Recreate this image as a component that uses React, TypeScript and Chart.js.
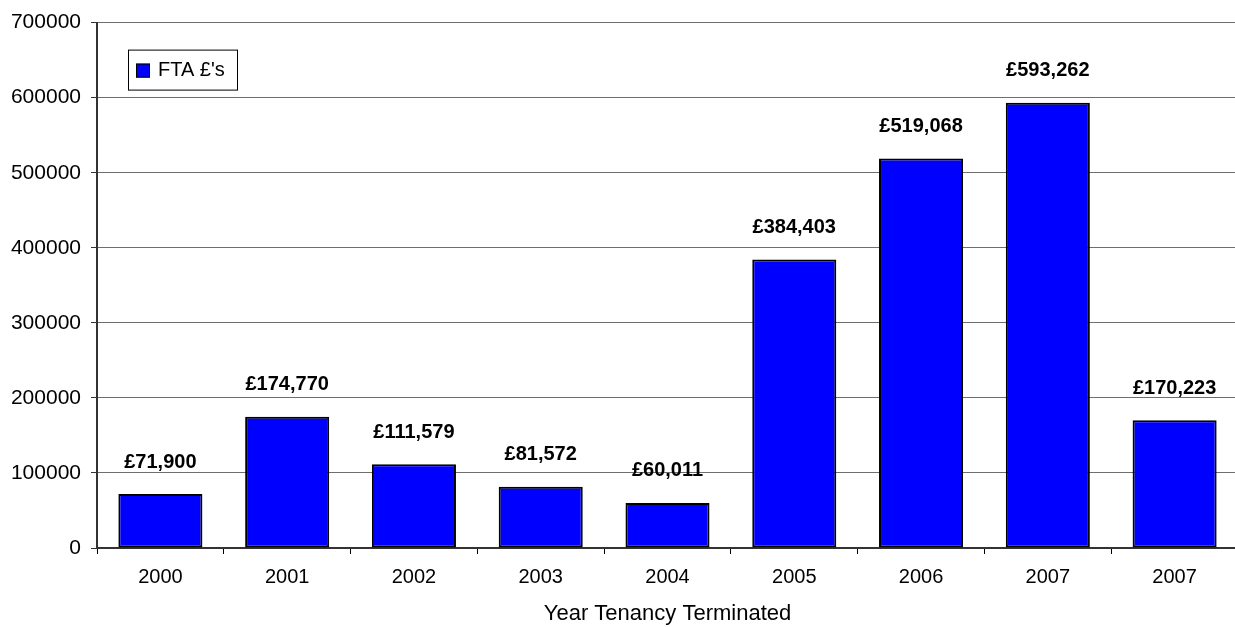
import React, { useEffect, useRef } from "react";
import { Chart, registerables } from "chart.js";

Chart.register(...registerables);

const categories = ["2000", "2001", "2002", "2003", "2004", "2005", "2006", "2007", "2007"];
const ftaValues = [71900, 174770, 111579, 81572, 60011, 384403, 519068, 593262, 170223];
const valueLabels = ["£71,900", "£174,770", "£111,579", "£81,572", "£60,011", "£384,403", "£519,068", "£593,262", "£170,223"];
const seriesName = "FTA £'s";
const axisTitle = "Year Tenancy Terminated";
const FONT = "Arial, 'Liberation Sans', sans-serif";

const labelPlugin = {
  id: "valueLabels",
  afterDatasetsDraw(chart: any) {
    const ctx = chart.ctx;
    const meta = chart.getDatasetMeta(0);
    ctx.save();
    ctx.font = `bold 20px ${FONT}`;
    ctx.fillStyle = "#000";
    ctx.textAlign = "center";
    ctx.textBaseline = "middle";
    meta.data.forEach((bar: any, i: number) => {
      ctx.fillText(valueLabels[i], bar.x, bar.y - 32);
    });
    ctx.restore();
  },
};

const legendPlugin = {
  id: "boxLegend",
  afterDraw(chart: any) {
    const ctx = chart.ctx;
    const { left, top } = chart.chartArea;
    const x = left + 31;
    const y = top + 27;
    ctx.save();
    ctx.fillStyle = "#fff";
    ctx.fillRect(x, y, 109, 40);
    ctx.strokeStyle = "#000";
    ctx.lineWidth = 1;
    ctx.strokeRect(x + 0.5, y + 0.5, 109, 40);
    ctx.fillStyle = "#0000FF";
    ctx.fillRect(x + 8, y + 14, 14, 14);
    ctx.strokeRect(x + 8.5, y + 14.5, 13, 13);
    ctx.fillStyle = "#000";
    ctx.font = `20px ${FONT}`;
    ctx.textAlign = "left";
    ctx.textBaseline = "middle";
    ctx.fillText(seriesName, x + 30, y + 21);
    ctx.restore();
  },
};

export default function App() {
  const ref = useRef<HTMLCanvasElement | null>(null);
  useEffect(() => {
    document.body.style.margin = "0";
    document.body.style.overflow = "hidden";
    const chart = new Chart(ref.current as HTMLCanvasElement, {
      type: "bar",
      data: {
        labels: categories,
        datasets: [
          {
            label: seriesName,
            data: ftaValues,
            backgroundColor: "#0000FF",
            borderColor: "#000",
            borderWidth: 2,
            borderSkipped: false,
            categoryPercentage: 1,
            barPercentage: 0.663,
          },
        ],
      },
      options: {
        animation: false,
        responsive: false,
        maintainAspectRatio: false,
        layout: { padding: { top: 22, right: 0, left: 0, bottom: 0 } },
        plugins: { legend: { display: false }, tooltip: { enabled: false } },
        scales: {
          x: {
            afterFit: (s: any) => { s.height = 79; },
            grid: {
              offset: true,
              drawOnChartArea: false,
              drawTicks: true,
              tickLength: 6,
              color: "#000",
            },
            border: { color: "#333", width: 2 },
            ticks: { color: "#000", font: { family: FONT, size: 20 }, padding: 11, maxRotation: 0, autoSkip: false },
            title: { display: true, text: axisTitle, color: "#000", font: { family: FONT, size: 22 }, padding: { top: 0, bottom: 0 } },
          },
          y: {
            min: 0,
            max: 700000,
            afterFit: (s: any) => { s.width = 97; },
            ticks: { stepSize: 100000, color: "#000", font: { family: FONT, size: 21 }, padding: 10, callback: (v: any) => String(v) },
            grid: { color: "#6e6e6e", lineWidth: 1, tickLength: 6, tickColor: "#333" },
            border: { color: "#333", width: 2 },
          },
        },
      },
      plugins: [labelPlugin, legendPlugin],
    });
    return () => chart.destroy();
  }, []);
  return (
    <div style={{ width: 1238, height: 627 }}>
      <canvas ref={ref} width={1238} height={627} style={{ display: "block" }} />
    </div>
  );
}
